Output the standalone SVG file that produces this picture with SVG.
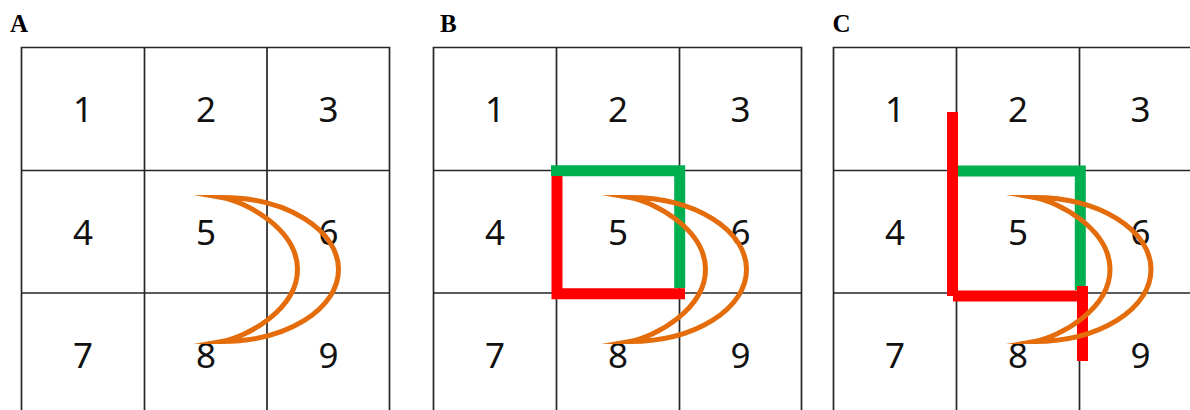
<svg xmlns="http://www.w3.org/2000/svg" width="1190" height="410" viewBox="0 0 1190 410">
<style>
.grid{fill:none;stroke:#262626;stroke-width:1.7}
.num{font-family:"Noto Sans","Open Sans","DejaVu Sans",sans-serif;font-size:35px;fill:#111;text-anchor:middle}
.lbl{font-family:"Liberation Serif","Times New Roman",serif;font-weight:bold;font-size:25px;fill:#000}
.cres{fill:none;stroke:#E46C0A;stroke-width:5;stroke-linejoin:miter;stroke-miterlimit:16}
.g{fill:none;stroke:#00B050;stroke-width:11;stroke-linejoin:miter}
.r{fill:none;stroke:#FF0000;stroke-width:11;stroke-linejoin:miter}
</style>
<defs>
  <path id="moon" d="M222,197.5 A116.5,72 0 0 1 222,341.5 C246.6,337.15 297.5,309.5 297.5,269.5 C297.5,229.5 246.6,201.85 222,197.5 Z"/>
</defs>
<rect width="1190" height="410" fill="#fff"/>

<g id="panelA">
  <text class="lbl" x="10" y="31.5">A</text>
  <g class="grid">
    <path d="M21.5,420 V47.5 H389.5 V420 M144.5,47.5 V420 M267,47.5 V420 M21.5,170.5 H389.5 M21.5,293 H389.5"/>
  </g>
  <g class="num">
    <text x="83" y="122">1</text><text x="206" y="122">2</text><text x="328.5" y="122">3</text>
    <text x="83" y="245">4</text><text x="206" y="245">5</text><text x="328.5" y="245">6</text>
    <text x="83" y="367.5">7</text><text x="206" y="367.5">8</text><text x="328.5" y="367.5">9</text>
  </g>
  <use id="crescentA" class="cres" href="#moon"/>
</g>

<g id="panelB">
  <text class="lbl" x="440" y="31.5">B</text>
  <g class="grid">
    <path d="M433.5,420 V47.5 H801.5 V420 M556.5,47.5 V420 M679.5,47.5 V420 M433.5,170.5 H801.5 M433.5,293 H801.5"/>
  </g>
  <g class="num">
    <text x="495" y="122">1</text><text x="618" y="122">2</text><text x="740.5" y="122">3</text>
    <text x="495" y="245">4</text><text x="618" y="245">5</text><text x="740.5" y="245">6</text>
    <text x="495" y="367.5">7</text><text x="618" y="367.5">8</text><text x="740.5" y="367.5">9</text>
  </g>
  <g id="pathsB">
    <path class="g" d="M551,170.7 H679.7 V288"/>
    <path class="r" d="M557,176 V293.8 H685"/>
  </g>
  <use id="crescentB" class="cres" href="#moon" transform="translate(408,0)"/>
</g>

<g id="panelC">
  <text class="lbl" x="832.5" y="31.5">C</text>
  <g class="grid">
    <path d="M833.5,420 V47.5 H1202 V420 M956.5,47.5 V420 M1079.5,47.5 V420 M833.5,170.5 H1202 M833.5,293 H1202"/>
  </g>
  <g class="num">
    <text x="895" y="122">1</text><text x="1018" y="122">2</text><text x="1140.5" y="122">3</text>
    <text x="895" y="245">4</text><text x="1018" y="245">5</text><text x="1140.5" y="245">6</text>
    <text x="895" y="367.5">7</text><text x="1018" y="367.5">8</text><text x="1140.5" y="367.5">9</text>
  </g>
  <g id="pathsC">
    <path class="g" d="M957.5,171 H1080.3 V290"/>
    <path class="r" d="M952.5,112 V296"/>
    <path class="r" d="M953,296 H1082"/>
    <path class="r" d="M1082.5,286 V361"/>
  </g>
  <use id="crescentC" class="cres" href="#moon" transform="translate(812.5,0)"/>
</g>
</svg>
